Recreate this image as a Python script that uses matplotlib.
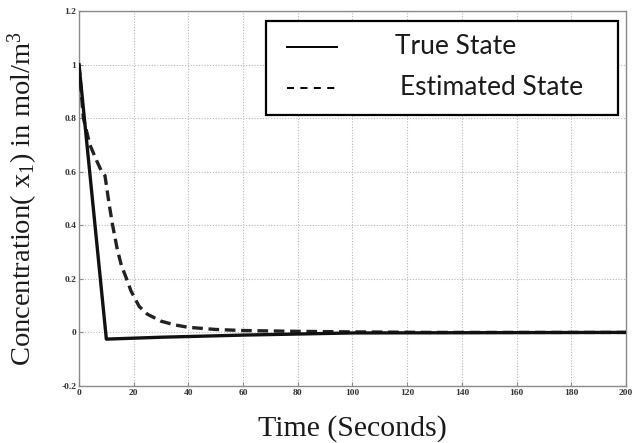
import matplotlib
matplotlib.use("Agg")
import matplotlib.pyplot as plt
from matplotlib.lines import Line2D
from matplotlib.patches import Rectangle

# true state x1
t_true = [0, 10, 30, 60, 100, 200]
x_true = [1.0, -0.025, -0.018, -0.010, -0.002, 0.0]

# estimated state x1
t_est = [0, 1.6, 4, 6.5, 8.3, 9.5, 11, 12.3, 14, 15.5, 17.4, 19, 22, 25, 30,
         35, 40, 50, 60, 80, 100, 128, 200]
x_est = [1.0, 0.80, 0.70, 0.64, 0.60, 0.585, 0.48, 0.40, 0.31, 0.25, 0.20,
         0.155, 0.097, 0.068, 0.042, 0.028, 0.019, 0.011, 0.007, 0.004,
         0.002, 0.0, 0.0]

xticks = [0, 20, 40, 60, 80, 100, 120, 140, 160, 180, 200]
yticks = [-0.2, 0, 0.2, 0.4, 0.6, 0.8, 1.0, 1.2]
ytick_labels = ["-0.2", "0", "0.2", "0.4", "0.6", "0.8", "1", "1.2"]
legend_labels = ["True State", "Estimated State"]

SERIF = "Liberation Serif"
GRID = "#b8b8b8"
AXIS = "#8a8a8a"
INK = "#1a1a1a"

plt.rcParams["mathtext.fontset"] = "custom"
plt.rcParams["mathtext.rm"] = SERIF
plt.rcParams["mathtext.it"] = SERIF

fig = plt.figure(figsize=(6.32, 4.43), dpi=100, facecolor="white")
ax = fig.add_axes([0.125, 0.1287, 0.8655, 0.8465])

DASH = (0, (3.2, 1.7))
ax.plot(t_est, x_est, color="#222222", lw=2.4, ls=DASH, zorder=3)
ax.plot(t_true, x_true, color="#111111", lw=2.4, zorder=4)

ax.set_xlim(0, 200)
ax.set_ylim(-0.2, 1.2)
ax.set_xticks(xticks)
ax.set_xticklabels([str(v) for v in xticks])
ax.set_yticks(yticks)
ax.set_yticklabels(ytick_labels)
ax.tick_params(direction="in", length=3, width=0.8, color=AXIS,
               labelsize=6.8, pad=2)
for lab in ax.get_xticklabels() + ax.get_yticklabels():
    lab.set_fontfamily(SERIF)
    lab.set_fontweight("bold")
    lab.set_color("#333333")
ax.grid(True, ls=(0, (1, 1.5)), color=GRID, lw=0.8)
for sp in ax.spines.values():
    sp.set_color(AXIS)
    sp.set_linewidth(1.0)

ax.set_xlabel("Time (Seconds)", fontsize=21.5, family=SERIF, labelpad=13,
              color=INK)
ax.set_ylabel(r"Concentration( x$_1$) in mol/m$^3$", fontsize=20.5,
              family=SERIF, labelpad=15, color=INK)

# legend box, drawn by hand to match the boxed key of the original
W, H = 632.0, 443.0
fig.add_artist(Rectangle((266 / W, 1 - 115 / H), 352 / W, 94 / H,
                         transform=fig.transFigure, facecolor="white",
                         edgecolor="black", lw=1.6, zorder=10))
key_rows = [(47, "-", 395), (88, (0, (3.6, 3.3)), 400)]
for (ypix, ls, xtxt), label in zip(key_rows, legend_labels):
    fig.add_artist(Line2D([287 / W, 337 / W], [1 - ypix / H, 1 - ypix / H],
                          transform=fig.transFigure, color="black", lw=1.4,
                          ls=ls, zorder=11))
    fig.text(xtxt / W, 1 - ypix / H, label, family="Lato", fontsize=19,
             ha="left", va="center", color=INK, zorder=11)

fig.savefig("out.png", dpi=100, facecolor="white")
